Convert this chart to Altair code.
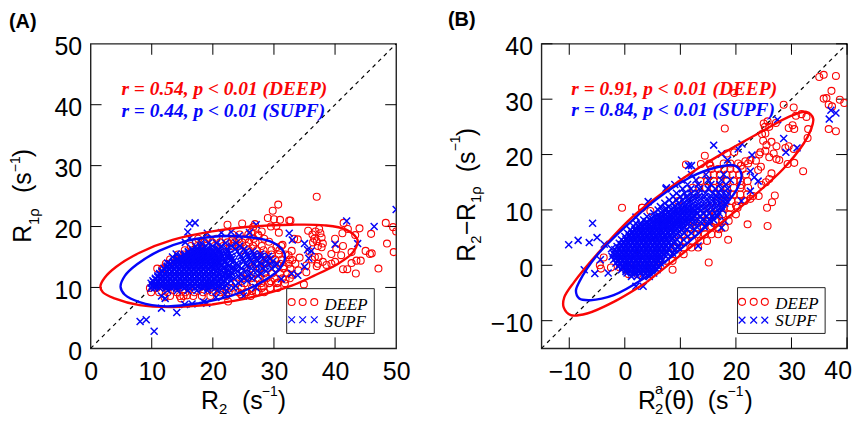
import altair as alt
import pandas as pd

FONT = "Liberation Sans"
SERIF = "Liberation Serif"
RED = "#fa0505"
BLUE = "#0505fa"
W, H = 307, 306

a_ticks = [10, 20, 30, 40]
a_labels = [0, 10, 20, 30, 40, 50]
b_ticks = [-10, 0, 10, 20, 30, 40]

# Ellipses
a_deep_ell_x = [19.9,13.4,8,3.9,2,1.6,2.3,4.2,8,13.4,19.9,26.4,32.9,38.3,41.8,43.6,43.7,42.8,40.5,36.5,32.9,26.4,19.9]
a_deep_ell_y = [7.2,6.8,7.1,8.2,9.2,10.2,11.6,13.4,15.7,17.8,19.2,20,20.3,20.2,19.5,18,17.4,15.6,13.9,11.9,10.3,8.4,7.2]
a_supf_ell_x = [17.7,12.3,8,5.6,4.9,5.6,7.6,11.2,15.6,21,26.4,29.8,31.5,31.8,30.7,27.5,23.2,17.7]
a_supf_ell_y = [7.4,6.9,7.6,8.8,10.1,11.9,13.8,16,17.6,18.4,18.2,17.4,16,14.8,12.8,10.6,8.7,7.4]
b_deep_ell_x = [4,-2,-6.8,-9.7,-11,-10.9,-9.1,-5,1,7,13,19,24.9,29.7,32.7,33.9,33.5,32.2,28.5,21.9,16,10,4]
b_deep_ell_y = [-3,-6.6,-8.7,-9,-7.6,-5.8,-3,2,8.4,13.2,17.4,21,24.3,26.9,27.7,26.5,24.5,22,17.4,11.4,6.6,1.8,-3]
b_supf_ell_x = [3.4,-2,-6.2,-8.2,-8.8,-8.2,-5,1,5.8,11.8,16.6,19.8,21,20.4,19,14.8,9.4,3.4]
b_supf_ell_y = [-2.4,-5.4,-6.3,-6,-4.6,-3,1.8,7.8,12,15.9,17.7,18,16.4,14.2,12,7.2,2.4,-2.4]

# Scattered points, panel A
a_deep_out = [(37,24.9),(30.7,23.6),(29.8,22.6),(29,21.4),(30,21.2),(31,21.1),(32.5,21),(32.7,21),(22.4,20.3),(24.8,20.5),(26.6,19.9),
(41.4,20.6),(48.3,20.6),(49.5,19.9),(50,19.2),(45.9,18.8),(44,19.7),(42.1,19.6),(41.2,18.9),(43.3,18.6),(48.5,17.2),(49.6,15.8),(47.1,13.1),
(45,16),(45.7,15.5),(46,15.6),(43.5,14.4),(44.2,14.4),(43.4,12.3),(41.3,13),(42,13),(42.7,14),(41.3,16.8),(42.7,15.8),(40,18),(40.2,16.3),(41,15.3),
(39.4,15.5),(40,14.2),(39.4,13.9),(38.6,13.7),(37,13.5),(37.3,15),(37.8,16.6),(36.4,17.4),(35.6,19.3),(36.3,18.7),(36.8,19.2),(37.4,19.6),(37.6,18.9),
(36.6,18),(37,17.6),(37.2,16.8),(38,17.2),(37.8,18.2),(36.7,15),(36.2,14.6),(37.2,13.9),(38,14.2),(35.3,12.5),(34.9,10.5),(33.5,13.9),(34.2,14.9),(33.9,17.9),(33.3,18),
(32.9,16),(32.4,15.3),(31.6,13.5),(33,14.5),(30.8,19),(31.4,17),(29.5,20),(30.4,20.1),(28,19.2),(27.5,18.5),(26.3,19.1),(26.9,20.4),(29.2,17.5),(30.4,16.6),(35.8,15.9),
(35.3,13.6),(34,12.8),(33,12.1),(31.9,11.3),(30.7,10.8),(29.5,11),(22.5,7.7),(27.5,9.2),(26.4,9.4),(25.4,9.2),(28.3,10.2),(24.6,8.9),(14.8,8.2),(12.1,8.4),(15.8,8.7)]
a_supf_out = [(16.2,20.5),(17.1,20.6),(15.9,19.1),(19.1,18.9),(16.2,18.1),(15.5,17.4),(50,22.8),(41.9,20.9),(46.4,20),(27.1,20.3),(32.5,18.9),(33,17.8),(43.7,17.2),(40,17.1),(35,17.2),
(35.5,16.2),(36.1,16),(35.7,14.8),(35,13.4),(32.9,12.3),(33.9,12),(31.2,11.4),(26,19),(24.3,18.5),(23,19.1),(21.4,19),(14,15.5),(13.4,15),(12.6,14),(11.6,8.6),(12.2,8.2),
(11.6,6.6),(14.1,5.9),(15.4,7.2),(16.6,7.3),(18.5,7.6),(19,7.4),(8.1,4.4),(9.1,4.7),(10.4,2.8),(10.3,10.4),(9.9,9.9),(20.5,8.4),(22,8.8),(25,8.6),(27,10)]
a_deep_rows = {
8.6:[13,14.6,15.2,16.8,18.2,19.6,21,22.2,24.8,26.2],
9.2:[9.9,11.2,12.6,14.1,15.5,17,18.4,19.9,21.2,22.6,24.2,25.6,27.1,28.4],
9.9:[9.7,10.8,12.5,14.2,16,17.8,19.6,21.3,23,24.7,26.4,28,29.4,30.6],
10.7:[23.8,25.2,26.6,27.9,29.2,30.5,31.8],
11.5:[24.9,26.3,27.5,28.8,30.1,31.4,32.6],
12.3:[25.6,27,28.4,29.7,31,32.2],
13.1:[10.9,11.7,26.2,27.7,29,30.4,31.6,32.7],
13.9:[12.3,12.9,26.9,28.4,29.8,31,32.4],
14.6:[13,13.8,28,29.1,30.2,31.3,32.6],
15.4:[14.3,15.2,27.5,28.4,29.6,30.8,31.9],
16.1:[15.4,16.6,24.6,25.9,27.2,28.3,29.6,30.9],
16.8:[16.4,17.5,18.9,20.3,21.7,23.1,24.3,25.5,26.6,28,31.2],
17.4:[17.2,18.6,19.9,21.2,22.4,23.6,24.8,25.9,27],
18:[17.6,19,20.6,22.1,23.3,24.2,25.3,26.7,28.4],
18.7:[23.2,24.4,25.8,27.4]}
a_supf_rows = {
9.5:[12.6,14.2,15.9,17.4,19.1,20.7,22.3],
9.9:[10.4,11.3,12.4,13.2,14.1,15.3,16.2,17.1,18.3,19.2,20.4,21.6,23.4],
10.3:[10.1,10.9,11.7,12.5,13.3,14.2,15,15.9,16.7,17.6,18.4,19.3,20.1,21,22.2,23.7],
10.7:[9.9,10.7,11.5,12.3,13.1,13.9,14.7,15.5,16.3,17.1,17.9,18.7,19.5,20.4,21.3,22.4,24.2],
11.1:[10.2,11,11.8,12.6,13.4,14.2,15,15.8,16.6,17.4,18.2,19,19.8,20.7,21.8,23,24.6,25.6],
11.5:[10.6,11.4,12.2,13,13.8,14.6,15.4,16.2,17,17.8,18.6,19.4,20.2,21.1,22.2,23.4,25.1,26.4],
11.9:[11,11.8,12.6,13.4,14.2,15,15.8,16.6,17.4,18.2,19,19.8,20.6,21.6,22.9,24.2,25.8,27.4],
12.3:[11.3,12.1,12.9,13.7,14.5,15.3,16.1,16.9,17.7,18.5,19.3,20.1,20.9,22,23.1,24.6,26.2,27.9],
12.7:[11.7,12.5,13.3,14.1,14.9,15.7,16.5,17.3,18.1,18.9,19.7,20.5,21.4,22.6,24,25.4,27.2,28.7],
13.1:[12,12.8,13.6,14.4,15.2,16,16.8,17.6,18.4,19.2,20,20.8,21.8,23.1,24.7,26.3,28.1,29.6],
13.5:[12.5,13.3,14.1,14.9,15.7,16.5,17.3,18.1,18.9,19.7,20.5,21.4,22.6,24.3,25.6,27.2,28.5,30.2],
13.9:[13,13.8,14.6,15.4,16.2,17,17.8,18.6,19.4,20.2,21.1,22.3,23.8,25.4,26.6,27.9,29.4,30.5],
14.3:[13.6,14.4,15.2,16,16.8,17.6,18.4,19.2,20,20.9,21.9,23.4,25,26.2,27.3,28.7,29.8],
14.7:[14.2,15,15.8,16.6,17.4,18.2,19,19.8,20.7,21.8,23.2,24.9,26,27.1,28.2,29.4],
15.1:[14.8,15.6,16.4,17.2,18,18.8,19.6,20.5,21.6,23,24.6,25.8,26.8,27.9,29.1],
15.5:[15.4,16.2,17,17.8,18.6,19.4,20.3,21.3,22.7,24.4,25.6,26.7,27.8],
15.9:[16,16.8,17.6,18.4,19.2,20.1,21.2,22.5,24,25.4,26.5],
16.3:[16.6,17.4,18.2,19,19.9,21,22.3,23.7,25.1],
16.8:[17.2,18,18.9,20,21.4,23,24.4],
17.3:[18.1,19.3,20.6,22.1,23.8]}
a_supf_fill = {
10.1:[10.6,11.5,12.8,13.7,14.6,15.6,16.6,17.5,18.7,19.7,20.8],
10.5:[10.5,11.3,12.1,12.9,13.7,14.6,15.4,16.3,17.1,18,18.9,19.7,20.6,21.6],
10.9:[10.3,11.1,11.9,12.7,13.5,14.3,15.1,15.9,16.7,17.5,18.3,19.1,19.9,20.9],
11.3:[10.6,11.4,12.2,13,13.8,14.6,15.4,16.2,17,17.8,18.6,19.4,20.3,21.3],
11.7:[11,11.8,12.6,13.4,14.2,15,15.8,16.6,17.4,18.2,19,19.8,20.7,21.7,22.7],
12.1:[11.3,12.2,13,13.8,14.6,15.4,16.2,17,17.8,18.6,19.4,20.2,21.2,22.5],
12.5:[11.7,12.5,13.3,14.1,14.9,15.7,16.5,17.3,18.1,18.9,19.7,20.6,21.7,23],
12.9:[12.1,12.9,13.7,14.5,15.3,16.1,16.9,17.7,18.5,19.3,20.2,21.2,22.4,23.7],
13.3:[12.5,13.3,14.1,14.9,15.7,16.5,17.3,18.1,18.9,19.8,20.7,21.9,23.4],
13.7:[13,13.8,14.6,15.4,16.2,17,17.8,18.6,19.4,20.3,21.4,22.7,24.1],
14.1:[13.5,14.3,15.1,15.9,16.7,17.5,18.3,19.1,20,20.9,22,23.2],
14.5:[14.1,14.9,15.7,16.5,17.3,18.1,18.9,19.7,20.6,21.6,22.9],
14.9:[14.7,15.5,16.3,17.1,17.9,18.7,19.5,20.3,21.2,22.4],
15.3:[15.3,16.1,16.9,17.7,18.5,19.3,20.2,21.3,22.4],
15.7:[16,16.8,17.6,18.4,19.2,20,21,22.1],
16.1:[16.7,17.5,18.3,19.1,20,21]}

# Scattered points, panel B
b_deep_out = [(35,34),(35.8,34.4),(38,34.2),(36.3,30.2),(35.8,30.1),(37.2,31.5),(36.7,29),(37.3,28.7),(38.7,29.9),(39.5,29.3),(36.7,24.6),(38,24.2),
(28.6,29),(30.4,28.5),(19.7,31.1),(18,24.7),(30.8,27),(31.8,27.3),(32.7,26.8),(33,24.6),(32.9,23),(29.5,24.8),(30.2,25.3),(30.5,24.6),(25,25.6),(25.7,26),(25.2,25),(26,25),(27.2,25.7),
(24.7,23.7),(25.3,23.8),(24.9,22.5),(25.5,21.7),(26.4,22.3),(27.3,21.5),(26.8,20.2),(25.3,20.7),(24.4,20.4),(26,19.5),(27.3,19.2),(27.8,19),(28.9,21.2),(29.5,21.5),(30.4,21),(29.3,18.3),(30.5,18.5),(32.1,17),
(26.4,16.6),(26,15.6),(25.4,15),(24.6,14.5),(27,12.6),(26.5,11.4),(25.6,10.4),(25.7,7.1),(22.1,7.4),(18.6,4.6),(15.1,0.5),(8.6,-0.8),(24,17.2),(24.5,17.8),(23.6,18.9),(24.2,20),(22.6,19),(21.7,18.8),(20.9,18),
(19.7,20.4),(18.4,20.2),(14.4,19.8),(13.7,18.3),(15.4,18),(11,18.2),(24.1,12.5),(23.1,12.5),(22.6,12),(21.4,11.7),(20,10.8),(20.9,14.5),(3.1,10.4),(4.6,9.8),(-4.5,0),(-3.8,1.4),(-4.3,-0.6),(17,6.5),(15.6,7)]
b_supf_out = [(-10.1,3.7),(-8.4,4.5),(-6.4,4.1),(-5.8,7.6),(-7.3,-0.8),(-5.4,-1.5),(-4.4,1),(-3,-1.4),(3.3,-3.8),(2,-3.8),(37.1,28),(36.8,26.4),(38,27.5),(27.5,26.3),(28.6,22.9),(31,21.2),(29,20.4),
(16,21.7),(17.4,20.1),(20.4,21),(21.1,21.9),(18.5,19),(22.9,19.9),(11.5,18),(12,18),(22.6,17),(23.3,15.9),(24,15.2),(22.6,13.4),(21,11.6),(17.4,6.8),(18,8),(13.2,3.5),(9.6,3.2),(-5,5),(-3.7,3.8),(-2.4,3),(2,8.7),(4.2,11.5),(7.5,14)]
b_deep_rows = {
-1.6:[0.7,2.3,3.8],
-0.4:[-2.5,-0.9,1,2.9,4.7,6],
0.8:[6.2,7.4,8.6],
2:[7.8,9.2,10.6],
3.2:[7.9,9.3,10.6,12,13.2],
4.4:[9.6,10.9,12.2,13.6,14.8],
5.6:[10.3,11.8,13,14.4,15.6,16.8],
6.8:[11.6,13,14.2,15.4,16.7,18],
8:[12.4,13.8,15.1,16.3,17.6,18.7],
9.2:[13.8,15,16.4,17.6,18.8,20],
10.4:[-0.5,3.1,15.2,16.4,17.8,19,20.3],
11.6:[9.6,16.8,18,19.2,20.4,21.6],
12.8:[11.4,12.6,17.2,18.4,19.6,20.8,22],
14:[12.2,13.4,14.6,16,17.2,18.4,19.6,20.8,22.2],
15.2:[13.6,14.8,16,17.2,18.4,19.6,20.8,22.1],
16.4:[14.9,16,17.1,18.3,19.4,20.6,21.8],
17.4:[15.6,16.8,17.9,19,20.1,21.2],
18.4:[15.2,17.8,19,20.4,22.2]}
b_supf_rows = {
-2:[1.2,2.2,3.3,4.4],
-1.4:[0.4,1.2,2,2.8,3.6,4.4,5.2],
-0.8:[-0.6,0.2,1,1.8,2.6,3.4,4.2,5,5.8],
-0.2:[-1.2,-0.4,0.4,1.2,2,2.8,3.6,4.4,5.2,6],
0.4:[-1.6,-0.8,0,0.8,1.6,2.4,3.2,4,4.8,5.6,6.4],
1:[-2,-1.2,-0.4,0.4,1.2,2,2.8,3.6,4.4,5.2,6,6.8],
1.6:[-2.3,-1.5,-0.7,0.1,0.9,1.7,2.5,3.3,4.1,4.9,5.7,6.5,7.4],
2.2:[-2.1,-1.3,-0.5,0.3,1.1,1.9,2.7,3.5,4.3,5.1,5.9,6.7,7.6,8.6],
2.8:[-1.8,-1,-0.2,0.6,1.4,2.2,3,3.8,4.6,5.4,6.2,7,7.9,8.9],
3.4:[-1.4,-0.6,0.2,1,1.8,2.6,3.4,4.2,5,5.8,6.6,7.4,8.3,9.5],
4:[-1,-0.2,0.6,1.4,2.2,3,3.8,4.6,5.4,6.2,7,7.8,8.8,10],
4.6:[-0.6,0.2,1,1.8,2.6,3.4,4.2,5,5.8,6.6,7.4,8.3,9.4,10.6],
5.2:[0,0.8,1.6,2.4,3.2,4,4.8,5.6,6.4,7.2,8,8.9,10,11.3],
5.8:[0.5,1.3,2.1,2.9,3.7,4.5,5.3,6.1,6.9,7.7,8.6,9.6,10.7,12],
6.4:[1,1.8,2.6,3.4,4.2,5,5.8,6.6,7.4,8.2,9.1,10.2,11.2,12.6],
7:[1.6,2.4,3.2,4,4.8,5.6,6.5,7.3,8.1,9,9.8,10.6,11.6,12.9,14.3],
7.6:[2,2.9,3.8,4.7,5.6,6.5,7.3,8.1,8.9,9.7,10.5,11.5,12.7,13.9,15.2],
8.2:[3.4,4.5,5.6,6.6,7.5,8.3,9.1,9.9,10.7,11.6,12.7,14,15.2,16],
8.8:[4,5.4,6.7,7.6,8.4,9.2,10,10.8,11.7,12.6,13.7,14.8,15.8,16.7],
9.4:[5.2,6.6,7.7,8.6,9.5,10.3,11.1,12,12.9,14,15.1,16.2,17],
10:[6,7.4,8.4,9.3,10.1,10.9,11.8,12.7,13.8,14.9,15.8,16.7,17.6],
10.6:[6.4,7.9,9,9.9,10.8,11.6,12.6,13.7,14.7,15.6,16.5,17.4],
11.2:[7.2,8.6,9.7,10.6,11.5,12.4,13.5,14.6,15.5,16.4,17.3,18],
11.8:[8,9.3,10.4,11.3,12.3,13.4,14.6,15.6,16.5,17.4,18.2],
12.4:[8.7,10,11.1,12.2,13.3,14.4,15.6,16.6,17.5,18.4],
13:[9.3,10.8,12,13.2,14.5,15.8,16.8,17.7,18.6],
13.8:[7.4,10.4,11.9,13.4,15,16.3,17.4,18.5],
14.6:[9,11.3,13.2,15.5,17.1,18.2],
15.4:[10.2,12.8,15,17.4,19],
16.4:[12,14.6,17.8]}
b_supf_fill = {
-1.1:[0.2,1,1.8,2.6,3.4,4.2],
-0.5:[-0.4,0.4,1.2,2,2.8,3.6,4.4,5.2],
0.1:[-0.8,0,0.8,1.6,2.4,3.2,4,4.8,5.6],
0.7:[-1.2,-0.4,0.4,1.2,2,2.8,3.6,4.4,5.2,6],
1.3:[-1.6,-0.8,0,0.8,1.6,2.4,3.2,4,4.8,5.6,6.4],
1.9:[-1.7,-0.9,-0.1,0.7,1.5,2.3,3.1,3.9,4.7,5.5,6.3,7.1],
2.5:[-1.4,-0.6,0.2,1,1.8,2.6,3.4,4.2,5,5.8,6.6,7.4],
3.1:[-1,-0.2,0.6,1.4,2.2,3,3.8,4.6,5.4,6.2,7,7.9],
3.7:[-0.6,0.2,1,1.8,2.6,3.4,4.2,5,5.8,6.6,7.4,8.4],
4.3:[-0.2,0.6,1.4,2.2,3,3.8,4.6,5.4,6.2,7,7.9,9],
4.9:[0.3,1.1,1.9,2.7,3.5,4.3,5.1,5.9,6.7,7.6,8.6],
5.5:[0.8,1.6,2.4,3.2,4,4.8,5.6,6.4,7.3,8.2,9.2],
6.1:[1.3,2.1,2.9,3.7,4.5,5.3,6.1,6.9,7.8,8.8,9.8],
6.7:[2,2.8,3.6,4.4,5.2,6,6.9,7.7,8.5,9.4,10.4],
7.3:[2.8,3.6,4.4,5.2,6,6.9,7.7,8.5,9.4,10.2],
7.9:[4,5,6,7,7.9,8.7,9.5,10.3,11.1],
8.5:[4.8,6.1,7.2,8,8.8,9.6,10.4,11.2,12.1],
9.1:[6,7.2,8.1,9,9.9,10.7,11.5,12.4],
9.7:[6.9,7.9,8.9,9.7,10.5,11.4,12.3],
10.3:[7.4,8.7,9.6,10.5,11.3,12.2,13.2]}

def expand(rows, extra, fill=None):
    pts = []
    for y, xs in rows.items():
        pts += [(x, y) for x in xs]
    for y, xs in (fill or {}).items():
        pts += [(x, y) for x in xs]
    pts += list(extra)
    return pd.DataFrame(pts, columns=["x", "y"])

def txt(dx, dy, s, size=24, color="black", font=FONT, angle=0, bold=False, italic=False, align="left"):
    kw = {}
    if bold: kw["fontWeight"] = "bold"
    if italic: kw["fontStyle"] = "italic"
    if angle: kw["angle"] = angle
    return alt.Chart(pd.DataFrame({"t": [s]})).mark_text(
        align=align, baseline="alphabetic", fontSize=size, color=color, font=font, **kw
    ).encode(x=alt.value(dx), y=alt.value(dy), text="t:N")

def panel(lo, hi, xlabels, ticks, ells, deep, supf, leg_x, leg_y1, leg_y2, annos, box, texts, xexpr=None):
    sx = alt.Scale(domain=[lo, hi], nice=False, zero=False)
    sy = alt.Scale(domain=[lo, hi], nice=False, zero=False)
    axkw = {"labelExpr": xexpr} if xexpr else {}
    ax = alt.Axis(values=xlabels, domain=False, ticks=False, grid=False, labelFontSize=25, labelFont=FONT,
                  labelColor="black", labelPadding=11, labelFlush=False, labelOverlap=False, **axkw)
    ay = alt.Axis(values=xlabels, domain=False, ticks=False, grid=False, labelFontSize=25, labelFont=FONT,
                  labelColor="black", labelPadding=9, labelOffset=3, labelFlush=False, labelOverlap=False)
    X = alt.X("x:Q", scale=sx, axis=ax, title=None)
    Y = alt.Y("y:Q", scale=sy, axis=ay, title=None)
    layers = []
    diag = pd.DataFrame({"x": [lo, hi], "y": [lo, hi]})
    layers.append(alt.Chart(diag).mark_line(color="black", strokeWidth=1.2, strokeDash=[4, 4]).encode(x=X, y=Y))
    t = pd.DataFrame({"v": ticks})
    for a, b in [(H, H - 11), (0, 11)]:
        layers.append(alt.Chart(t).mark_rule(color="black", strokeWidth=1).encode(
            x=alt.X("v:Q", scale=sx, axis=ax, title=None), y=alt.value(a), y2=alt.value(b)))
    for a, b in [(0, 11), (W, W - 11)]:
        layers.append(alt.Chart(t).mark_rule(color="black", strokeWidth=1).encode(
            y=alt.Y("v:Q", scale=sy, axis=ay, title=None), x=alt.value(a), x2=alt.value(b)))
    layers.append(alt.Chart(deep).mark_point(shape="circle", size=49, color=RED, strokeWidth=1.1, opacity=1, clip=True, filled=False).encode(x=X, y=Y))
    cross = "M-1,-1L1,1M-1,1L1,-1"
    layers.append(alt.Chart(supf).mark_point(shape=cross, size=49, color=BLUE, strokeWidth=1.5, opacity=1, clip=True, filled=False).encode(x=X, y=Y))
    for (ex, ey), c in ells:
        df = pd.DataFrame({"x": ex, "y": ey, "i": list(range(len(ex)))})
        layers.append(alt.Chart(df).mark_line(color=c, strokeWidth=2.4, interpolate="catmull-rom", clip=True).encode(
            x=X, y=Y, order="i:Q"))
    layers.append(alt.Chart(pd.DataFrame({"a": [0]})).mark_rect(fill="white", stroke="#222", strokeWidth=1).encode(
        x=alt.value(box[0]), x2=alt.value(box[1]), y=alt.value(box[2]), y2=alt.value(box[3])))
    layers.append(alt.Chart(pd.DataFrame({"x": leg_x, "y": [leg_y1] * 3})).mark_point(shape="circle", size=49, color=RED, strokeWidth=1.1, opacity=1).encode(x=X, y=Y))
    layers.append(alt.Chart(pd.DataFrame({"x": leg_x, "y": [leg_y2] * 3})).mark_point(shape=cross, size=46, color=BLUE, strokeWidth=1.2, opacity=1).encode(x=X, y=Y))
    layers.append(txt(box[0] + 38, box[2] + 21, "DEEP", 17, "black", SERIF, italic=True))
    layers.append(txt(box[0] + 38, box[2] + 39, "SUPF", 17, "black", SERIF, italic=True))
    for dx, dy, s, c in annos:
        layers.append(txt(dx, dy, s, 19.5, c, SERIF, bold=True, italic=True))
    layers += texts
    return alt.layer(*layers).properties(width=W, height=H)

R = 270
text_a = [
    txt(-82, -16, "(A)", 20, bold=True),
    txt(111, 367, "R", 25), txt(129, 372, "2", 15), txt(152, 367, "(s", 25), txt(172, 354, "−1", 14), txt(188, 367, ")", 25),
    txt(-60, 200, "R", 25, angle=R), txt(-52, 182, "1ρ", 15, angle=R), txt(-60, 150, "(s", 25, angle=R),
    txt(-71, 129, "−1", 14, angle=R), txt(-60, 114, ")", 25, angle=R),
]
text_b = [
    txt(-94, -18, "(B)", 20, bold=True),
    txt(312, 336.7, "40", 25, align="right"),
    txt(97, 367, "R", 25), txt(114, 372, "2", 15), txt(114, 352, "a", 15), txt(123, 367, "(θ)", 25),
    txt(167, 367, "(s", 25), txt(187, 354, "−1", 14), txt(204, 367, ")", 25),
    txt(-67, 219, "R", 25, angle=R), txt(-61, 201, "2", 15, angle=R), txt(-67, 192, "−", 25, angle=R),
    txt(-67, 178, "R", 25, angle=R), txt(-61, 160, "1ρ", 15, angle=R), txt(-67, 129, "(s", 25, angle=R),
    txt(-82, 108, "−1", 14, angle=R), txt(-67, 93, ")", 25, angle=R),
]

pa = panel(0, 50, a_labels, a_ticks,
           [((a_deep_ell_x, a_deep_ell_y), RED), ((a_supf_ell_x, a_supf_ell_y), BLUE)],
           expand(a_deep_rows, a_deep_out), expand(a_supf_rows, a_supf_out, a_supf_fill),
           [32.9, 34.7, 36.6], 7.6, 4.7,
           [(31, 51, "r = 0.54, p < 0.01 (DEEP)", RED), (31, 74, "r = 0.44, p < 0.01 (SUPF)", BLUE)],
           (197, 285, 246, 291), text_a)
pb = panel(-15, 40, b_ticks, b_ticks,
           [((b_deep_ell_x, b_deep_ell_y), RED), ((b_supf_ell_x, b_supf_ell_y), BLUE)],
           expand(b_deep_rows, b_deep_out), expand(b_supf_rows, b_supf_out, b_supf_fill),
           [21.1, 23.2, 25.2], -6.6, -9.9,
           [(30, 51, "r = 0.91, p < 0.01 (DEEP)", RED), (30, 73, "r = 0.84, p < 0.01 (SUPF)", BLUE)],
           (197, 285, 245, 291), text_b,
           xexpr="datum.value == 40 ? '' : datum.label")

chart = alt.hconcat(pa, pb, spacing=36).properties(
    padding=0, background="white"
).configure_view(stroke="#222", strokeWidth=1.4)
chart.save("out.html", embed_options={"renderer": "svg", "actions": False})
